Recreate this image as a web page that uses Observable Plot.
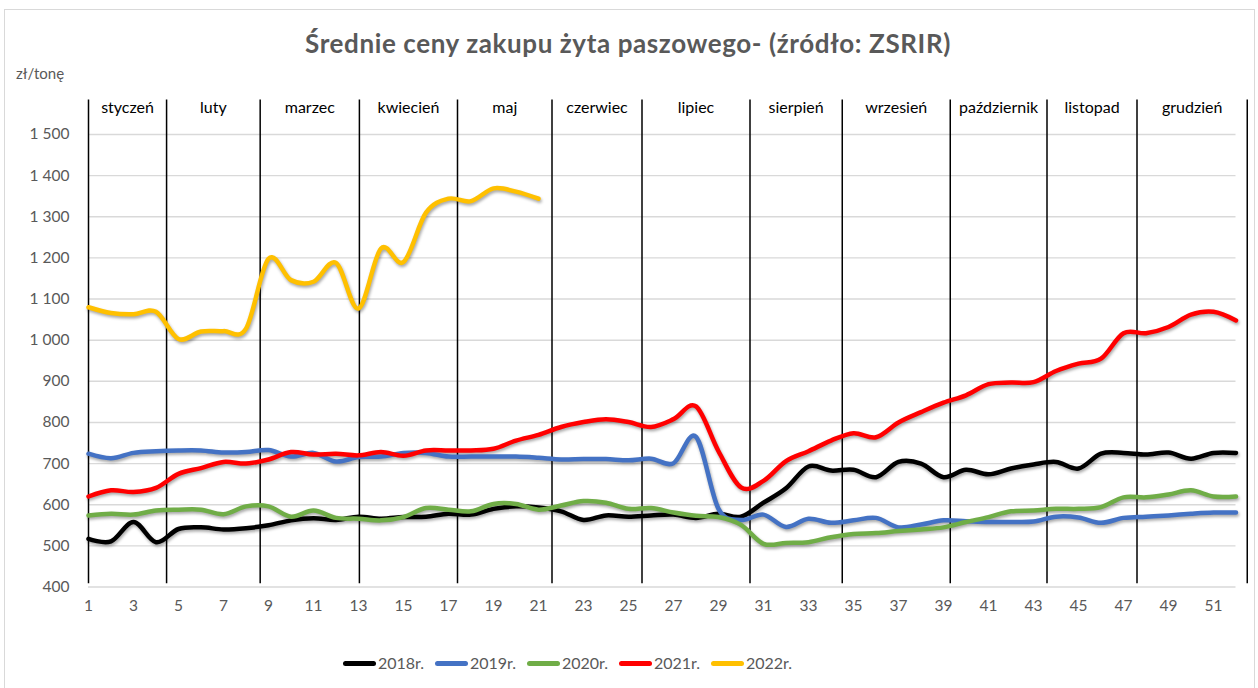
<!DOCTYPE html>
<html>
<head>
<meta charset="utf-8">
<script src="https://cdn.jsdelivr.net/npm/d3@7"></script>
<script src="https://cdn.jsdelivr.net/npm/@observablehq/plot@0.6"></script>
<style>
  html, body { margin: 0; padding: 0; background: #fff; }
  #wrap { position: relative; width: 1258px; height: 688px; overflow: hidden; font-family: Lato, "Open Sans", sans-serif; }
  #frame { position: absolute; left: 4px; top: 9px; width: 1251px; height: 681px; border: 1px solid #d9d9d9; box-sizing: border-box; }
  #title { position: absolute; left: 0; width: 1256px; top: 28px; text-align: center; font-size: 26px; line-height: 30px; font-weight: bold; letter-spacing: 0.6px; color: #595959; }
  #unit { position: absolute; left: 16px; top: 64px; font-size: 15px; line-height: 18px; color: #595959; }
  #chart { position: absolute; left: 0; top: 0; }
  #legend { position: absolute; left: 343px; top: 653px; display: flex; align-items: center; font-size: 16px; line-height: 20px; color: #595959; }
  .item { display: flex; align-items: center; width: 92px; }
  .sw { width: 33px; height: 5px; border-radius: 3px; margin-right: 2px; }
</style>
</head>
<body>
<div id="wrap">
  <div id="frame"></div>
  <div id="chart"></div>
  <div id="title">Średnie ceny zakupu żyta paszowego- (źródło: ZSRIR)</div>
  <div id="unit">zł/tonę</div>
  <div id="legend"></div>
</div>
<script>
// ---- data ----
const weeks = d3.range(1, 53);
const years = ["2018r.", "2019r.", "2020r.", "2021r.", "2022r."];
const y2018 = [517, 511, 558, 509, 541, 545, 540, 543, 550, 562, 567, 563, 571, 566, 570, 571, 578, 576, 590, 596, 593, 584, 563, 574, 571, 574, 576, 568, 578, 571, 605, 640, 693, 683, 685, 667, 704, 700, 667, 685, 674, 688, 698, 704, 688, 724, 726, 722, 727, 712, 726, 726];
const y2019 = [724, 713, 726, 730, 732, 732, 727, 728, 733, 717, 726, 705, 716, 717, 726, 726, 717, 717, 717, 717, 714, 710, 711, 711, 708, 712, 701, 765, 590, 563, 576, 546, 566, 556, 562, 568, 545, 552, 562, 560, 558, 558, 559, 571, 569, 556, 568, 571, 574, 578, 581, 581];
const y2020 = [574, 578, 576, 586, 588, 588, 577, 596, 596, 571, 586, 568, 566, 562, 570, 592, 588, 584, 602, 602, 588, 598, 609, 605, 590, 592, 581, 573, 570, 551, 505, 507, 509, 521, 529, 531, 536, 540, 545, 558, 570, 584, 586, 590, 590, 594, 618, 618, 625, 635, 620, 620];
const y2021 = [620, 635, 631, 641, 675, 689, 704, 700, 710, 728, 722, 724, 720, 728, 719, 732, 732, 732, 736, 756, 770, 789, 801, 808, 801, 789, 808, 839, 730, 642, 658, 706, 730, 756, 774, 764, 800, 825, 848, 866, 893, 897, 898, 925, 943, 955, 1017, 1017, 1032, 1062, 1069, 1048];
const y2022 = [1080, 1066, 1063, 1069, 1003, 1021, 1022, 1028, 1198, 1146, 1142, 1188, 1077, 1223, 1190, 1310, 1344, 1338, 1369, 1361, 1344];
const yTicks = [400, 500, 600, 700, 800, 900, 1000, 1100, 1200, 1300, 1400, 1500];
const xTicks = d3.range(1, 53, 2);
const monthNames = ["styczeń", "luty", "marzec", "kwiecień", "maj", "czerwiec", "lipiec", "sierpień", "wrzesień", "październik", "listopad", "grudzień"];
const monthBounds = [1, 4.47, 8.63, 13.04, 17.4, 21.6, 25.6, 30.4, 34.5, 39.3, 43.6, 47.6, 52.5];

const colors = ["#000000", "#4472C4", "#70AD47", "#FF0000", "#FFC000"];
const seriesValues = [y2018, y2019, y2020, y2021, y2022];

const rows = [];
seriesValues.forEach((vals, i) => vals.forEach((v, j) => rows.push({year: years[i], week: weeks[j], price: v})));

const fmt = d => d >= 1000 ? Math.floor(d / 1000) + " " + String(d % 1000).padStart(3, "0") : String(d);

const chart = Plot.plot({
  width: 1258,
  height: 688,
  marginLeft: 88,
  marginRight: 22.5,
  marginTop: 134,
  marginBottom: 101.5,
  style: {fontFamily: "Lato, 'Open Sans', sans-serif", fontSize: "15px", color: "#595959", background: "transparent"},
  x: {domain: [1, 52], axis: null, label: null},
  y: {domain: [400, 1500], axis: null, label: null},
  color: {domain: years, range: colors},
  marks: [
    Plot.ruleY(yTicks, {y: d => d, stroke: "#d9d9d9", strokeWidth: 1.4, strokeOpacity: 1}),
    Plot.axisY({ticks: yTicks, tickSize: 0, tickPadding: 19, tickFormat: fmt, fill: "#595959", fontSize: 15.5, label: null}),
    Plot.axisX({ticks: xTicks, tickSize: 0, tickPadding: 13, tickFormat: d => String(d), fill: "#595959", fontSize: 15.5, label: null}),
    Plot.ruleX(monthBounds, {x: d => d, y1: 1584, y2: 408, stroke: "#000", strokeWidth: 1.5}),
    Plot.text(monthNames, {x: (d, i) => (monthBounds[i] + monthBounds[i + 1]) / 2, y: 1565, text: d => d, fill: "#000", fontSize: 16}),
    Plot.lineY(rows, {x: "week", y: "price", z: "year", stroke: "year", curve: "cardinal", strokeWidth: 4.5, strokeLinecap: "round", strokeLinejoin: "round"})
  ]
});
document.getElementById("chart").appendChild(chart);
d3.select(chart).selectAll('g[aria-label="line"]').style("filter", "drop-shadow(1px 2px 1.5px rgba(0,0,0,0.35))");

const legend = document.getElementById("legend");
years.forEach((y, i) => {
  const it = document.createElement("div");
  it.className = "item";
  const sw = document.createElement("div");
  sw.className = "sw";
  sw.style.background = colors[i];
  const tx = document.createElement("span");
  tx.textContent = y;
  it.appendChild(sw);
  it.appendChild(tx);
  legend.appendChild(it);
});
</script>
</body>
</html>
